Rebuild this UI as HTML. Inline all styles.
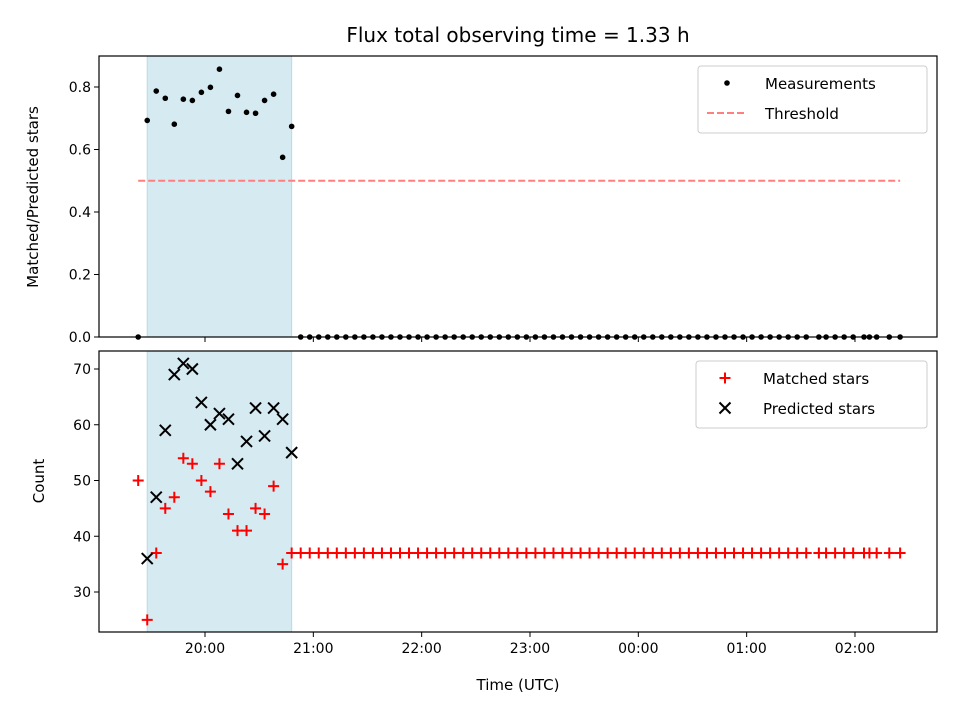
<!DOCTYPE html>
<html><head><meta charset="utf-8"><style>
body{margin:0;background:#fff;}
svg text{font-family:"DejaVu Sans","Liberation Sans",sans-serif;fill:#000;}
</style></head><body>
<svg id="fig" width="960" height="720" xmlns="http://www.w3.org/2000/svg">
<rect width="960" height="720" fill="#fff"/>
<text x="518" y="42" font-size="20" text-anchor="middle">Flux total observing time = 1.33 h</text>
<g id="topPanel"></g>
<g id="botPanel"></g>
</svg>
<script>
// times in minutes relative to 20:00 UTC
const earlyTimes = [-37,-32,-27,-22,-17,-12,-7,-2,3,8,13,18,23,28,33,38,43,48];
const ratioEarly = [0,0.693,0.787,0.764,0.681,0.761,0.757,0.783,0.799,0.857,0.722,0.773,0.719,0.716,0.757,0.777,0.575,0.674];
const matchedEarly = [50,25,37,45,47,54,53,50,48,53,44,41,41,45,44,49,35,37];
const predictedEarly = [null,36,47,59,69,71,70,64,60,62,61,53,57,63,58,63,61,55];
const lateTimes = [53,58,63,68,73,78,83,88,93,98,103,108,113,118,123,128,133,138,143,148,153,158,163,168,173,178,183,188,193,198,203,208,213,218,223,228,233,238,243,248,253,258,263,268,273,278,283,288,293,298,303,308,313,318,323,328,333,340,344,349,354,359,365,368,372,379,385];
const lateRatio = 0;
const lateMatched = 37;
const xTickLabels = ["20:00","21:00","22:00","23:00","00:00","01:00","02:00"];
const xTickMins = [0,60,120,180,240,300,360];
const topTicks = [0,0.2,0.4,0.6,0.8];
const botTicks = [30,40,50,60,70];
const threshold = 0.5;
const shadeRange = [-32,48];

const NS="http://www.w3.org/2000/svg";
const L=99,R=937;
const X=m=>205+m*(108.33/60);
const Yt=v=>337-v*312.5;
const Yb=v=>592-(v-30)*5.575;
function mk(p,tag,a){const e=document.createElementNS(NS,tag);for(const k in a)e.setAttribute(k,a[k]);p.appendChild(e);return e;}

function panel(g,y0,y1,Y,ticks,fmt,showX){
  const sh=mk(g,'rect',{x:X(shadeRange[0]),y:y0,width:X(shadeRange[1])-X(shadeRange[0]),height:y1-y0,fill:'#d5eaf1',stroke:'#b8dbe6','stroke-width':1});
  
  
  ticks.forEach(t=>{
    mk(g,'line',{x1:L-5,x2:L,y1:Y(t),y2:Y(t),stroke:'#000','stroke-width':1});
    const tx=mk(g,'text',{x:L-8,y:Y(t)+5,'font-size':14,'text-anchor':'end'});tx.textContent=fmt(t);
    
    
  });
  xTickMins.forEach((m,i)=>{
    mk(g,'line',{x1:X(m),x2:X(m),y1:y1,y2:y1+5,stroke:'#000','stroke-width':1});
    if(showX){const tx=mk(g,'text',{x:X(m),y:y1+21,'font-size':14,'text-anchor':'middle'});tx.textContent=xTickLabels[i];
      
      }
  });
}
const topG=document.getElementById('topPanel'), botG=document.getElementById('botPanel');
panel(topG,56,337,Yt,topTicks,t=>t.toFixed(1),false);
panel(botG,351,632,Yb,botTicks,t=>String(t),true);

// threshold
const th=mk(topG,'line',{x1:X(earlyTimes[0]),x2:X(lateTimes[lateTimes.length-1]),y1:Yt(threshold),y2:Yt(threshold),stroke:'#ff7f7f','stroke-width':2,'stroke-dasharray':'7,3'});


// measurements
const allT=earlyTimes.concat(lateTimes);
const allR=ratioEarly.concat(lateTimes.map(()=>lateRatio));
allT.forEach((t,i)=>{const c=mk(topG,'circle',{cx:X(t),cy:Yt(allR[i]),r:2.8,fill:'#000'});
  
  });
// matched
const allM=matchedEarly.concat(lateTimes.map(()=>lateMatched));
allT.forEach((t,i)=>{const x=X(t),y=Yb(allM[i]);
  const p=mk(botG,'path',{d:`M${x-5.5},${y}H${x+5.5}M${x},${y-5.5}V${y+5.5}`,stroke:'#f00','stroke-width':2});
  
  });
// predicted
earlyTimes.forEach((t,i)=>{const v=predictedEarly[i];if(v==null)return;const x=X(t),y=Yb(v);
  const p=mk(botG,'path',{d:`M${x-5.5},${y-5.5}L${x+5.5},${y+5.5}M${x-5.5},${y+5.5}L${x+5.5},${y-5.5}`,stroke:'#000','stroke-width':2});
  
  });

// frames
[[topG,56,337],[botG,351,632]].forEach(([g,a,b])=>{const f=mk(g,'rect',{x:L,y:a,width:R-L,height:b-a,fill:'none',stroke:'#000','stroke-width':1.2});
  
  });

// axis labels
function txt(g,x,y,s,str,name,rot){const t=mk(g,'text',{x:x,y:y,'font-size':s,'text-anchor':'middle'});if(rot)t.setAttribute('transform',`rotate(-90 ${x} ${y})`);t.textContent=str;
  
  }
txt(topG,38,197,15,'Matched/Predicted stars','y-axis-title-ratio',true);
txt(botG,44,481,15,'Count','y-axis-title-count',true);
txt(botG,518,690,15,'Time (UTC)','x-axis-title',false);

// legends
function legend(g,x,y,w,h,items){
  const b=mk(g,'rect',{x:x,y:y,width:w,height:h,rx:3,fill:'#fff',stroke:'#ccc','stroke-width':1});
  
  
  items.forEach((it,i)=>{const cy=y+17+i*30,cx=x+29;
    if(it[0]=='dot')mk(g,'circle',{cx:cx,cy:cy,r:2.8,fill:'#000'});
    if(it[0]=='dash')mk(g,'line',{x1:cx-20,x2:cx+20,y1:cy,y2:cy,stroke:'#ff7f7f','stroke-width':2,'stroke-dasharray':'7,3'});
    if(it[0]=='plus')mk(g,'path',{d:`M${cx-5.5},${cy}H${cx+5.5}M${cx},${cy-5.5}V${cy+5.5}`,stroke:'#f00','stroke-width':2});
    if(it[0]=='x')mk(g,'path',{d:`M${cx-5.5},${cy-5.5}L${cx+5.5},${cy+5.5}M${cx-5.5},${cy+5.5}L${cx+5.5},${cy-5.5}`,stroke:'#000','stroke-width':2});
    const t=mk(g,'text',{x:x+67,y:cy+6,'font-size':15});t.textContent=it[1];
    
    });
}
legend(topG,698,66,229,67,[['dot','Measurements'],['dash','Threshold']]);
legend(botG,696,361,231,67,[['plus','Matched stars'],['x','Predicted stars']]);
</script>
</body></html>
